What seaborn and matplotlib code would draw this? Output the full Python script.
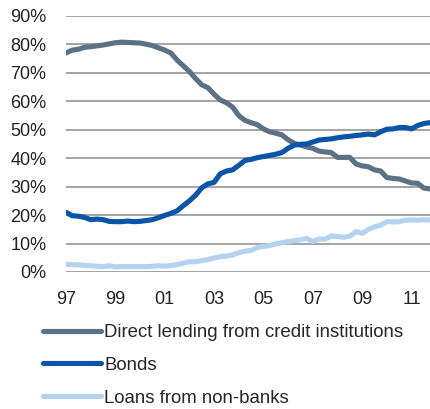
import numpy as np
import pandas as pd
import seaborn as sns
import matplotlib.pyplot as plt
from matplotlib.lines import Line2D

# quarterly shares, 1997Q1 - 2011Q4 (%)
quarters = [1997 + i / 4 for i in range(60)]

direct_lending = [77.0, 78.0, 78.3, 79.0, 79.2, 79.5, 79.8, 80.2, 80.6, 80.8,
                  80.7, 80.6, 80.5, 80.1, 79.6, 78.8, 78.0, 77.0, 74.5, 72.5,
                  70.5, 68.0, 65.8, 64.8, 62.5, 60.5, 59.5, 58.0, 55.0, 53.3,
                  52.5, 51.8, 50.3, 49.3, 48.8, 48.2, 46.5, 45.2, 44.6, 44.0,
                  43.5, 42.5, 42.2, 42.0, 40.3, 40.3, 40.3, 38.0, 37.3, 37.0,
                  35.9, 35.5, 33.2, 32.9, 32.7, 32.0, 31.3, 31.2, 29.5, 29.2]

bonds = [21.0, 19.8, 19.6, 19.2, 18.4, 18.6, 18.4, 17.8, 17.7, 17.7,
         17.9, 17.7, 17.8, 18.1, 18.4, 19.1, 19.9, 20.6, 21.5, 23.3,
         25.0, 27.0, 29.6, 31.0, 31.5, 34.5, 35.5, 35.9, 37.5, 39.2,
         39.6, 40.2, 40.6, 41.0, 41.4, 42.0, 43.5, 44.6, 44.9, 45.0,
         45.7, 46.4, 46.6, 46.8, 47.2, 47.5, 47.7, 48.0, 48.2, 48.5,
         48.2, 49.3, 50.2, 50.3, 50.8, 50.8, 50.3, 51.5, 52.2, 52.5]

non_banks = [2.7, 2.6, 2.5, 2.3, 2.2, 2.0, 1.9, 2.2, 1.8, 1.9,
             1.9, 1.9, 1.9, 1.9, 2.0, 2.2, 2.0, 2.3, 2.6, 3.1,
             3.6, 3.6, 4.0, 4.4, 4.9, 5.4, 5.6, 6.0, 6.8, 7.3,
             7.6, 8.6, 9.0, 9.3, 9.9, 10.3, 10.7, 11.0, 11.3, 11.8,
             10.7, 11.6, 11.5, 12.7, 12.5, 12.2, 12.6, 14.2, 13.6, 15.0,
             15.9, 16.5, 17.7, 17.6, 17.7, 18.2, 18.3, 18.2, 18.4, 18.3]

labels = ["Direct lending from credit institutions", "Bonds", "Loans from non-banks"]
colors = ["#5b7186", "#0a55a8", "#b5d3f1"]

tick_years = [1997, 1999, 2001, 2003, 2005, 2007, 2009, 2011]
tick_labels = ["97", "99", "01", "03", "05", "07", "09", "11"]

df = pd.DataFrame({
    "t": quarters * 3,
    "value": direct_lending + bonds + non_banks,
    "series": [labels[0]] * 60 + [labels[1]] * 60 + [labels[2]] * 60,
})

sns.set_style("white")
plt.rcParams["font.family"] = ["Liberation Sans", "DejaVu Sans"]

fig = plt.figure(figsize=(4.3, 4.09), dpi=100)
ax = fig.add_axes([66 / 430, 1 - 272 / 409, 364 / 430, 256 / 409])

sns.lineplot(data=df, x="t", y="value", hue="series", palette=colors,
             hue_order=labels, linewidth=3.7, ax=ax, legend=False)

ax.set_xlim(1997, 2011.75)
ax.set_ylim(0, 90)
ax.set_yticks(range(0, 91, 10))
ax.set_yticklabels([f"{v}%" for v in range(0, 91, 10)], fontsize=13, color="#222222")
ax.set_xticks(tick_years)
ax.set_xticklabels(tick_labels, fontsize=13, color="#222222")
ax.tick_params(axis="y", length=0, pad=14)
ax.tick_params(axis="x", length=0, pad=14)
ax.grid(axis="y", color="#8c8c8c", linewidth=1.1)
ax.set_axisbelow(True)
ax.set_xlabel("")
ax.set_ylabel("")
for s in ax.spines.values():
    s.set_visible(False)

handles = [Line2D([0], [0], color=c, linewidth=3.7, solid_capstyle="round") for c in colors]
fig.legend(handles, labels, loc="upper left", bbox_to_anchor=(43 / 430, 1 - 324 / 409),
           frameon=False, fontsize=13.4, handlelength=3.1, handletextpad=0.2,
           labelspacing=0.85, borderaxespad=0, borderpad=0)

fig.savefig("out.png", dpi=100)
